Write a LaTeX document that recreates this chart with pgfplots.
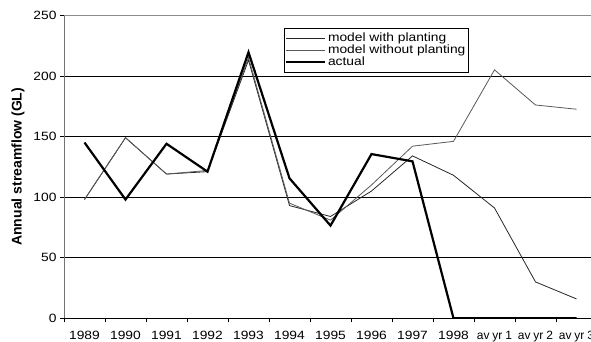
\documentclass[border=0pt]{standalone}
\usepackage{pgfplots}
\pgfplotsset{compat=1.18}
\usepackage{fontspec}
\setmainfont{Liberation Sans}
\newfontfamily\wide[FakeStretch=1.15]{Liberation Sans}
\newfontfamily\narrow{Liberation Sans}
\newcommand\avyr[1]{{\narrow av\hspace{3pt}yr\hspace{3pt}#1}}
\begin{document}
\begin{tikzpicture}[x=1pt,y=1pt]
\begin{axis}[
  at={(64pt,23.7pt)}, anchor=south west,
  scale only axis, width=533pt, height=303pt,
  xmin=-0.5, xmax=12.5, ymin=0, ymax=250,
  axis x line*=bottom, axis y line*=left,
  x axis line style={black, line width=0.8pt, -},
  y axis line style={black!55, line width=0.8pt, -},
  xtick={-0.5,0.5,...,12.5}, xticklabels={},
  extra x ticks={0,1,...,12},
  extra x tick labels={1989,1990,1991,1992,1993,1994,1995,1996,1997,1998,\avyr{1},\avyr{2},\avyr{3}},
  extra x tick style={major tick length=0pt, tick label style={yshift=-9pt}},
  ytick={0,50,...,250},
  tick align=outside, major tick length=4pt,
  tick style={black, line width=0.7pt},
  ymajorgrids, grid style={black, line width=0.7pt},
  /pgf/number format/assume math mode=true,
  tick label style={font=\wide\fontsize{12}{14}\selectfont},
  ylabel={\bfseries Annual streamflow (GL)},
  ylabel style={at={(axis description cs:-0.0863,0.5)}, anchor=center, font=\fontsize{14}{16}\selectfont},
  legend style={at={(0.4128,0.958)}, anchor=north west, draw=black, fill=white,
    font=\wide\fontsize{12}{14}\selectfont, line width=0.7pt, inner xsep=1pt, inner ysep=3pt, row sep=-1pt,
    nodes={inner sep=1.5pt}},
  legend cell align=left,
  legend image code/.code={\path (0pt,0pt) -- (12pt,0pt); \draw[#1] (12pt,0pt) -- (39pt,0pt);},
]
\draw[black!45, line width=0.8pt] (axis cs:-0.5,250) -- (axis cs:12.5,250);
\addplot[black!85, line width=0.8pt] coordinates {
(0,98) (1,149) (2,119) (3,121) (4,213) (5,93) (6,84) (7,105) (8,134) (9,118) (10,91) (11,30) (12,16)};
\addlegendentry{model with planting}
\addplot[black!65, line width=0.8pt] coordinates {
(0,98) (1,149) (2,119) (3,122) (4,215) (5,95) (6,81) (7,110) (8,142) (9,146) (10,205) (11,176) (12,172.5)};
\addlegendentry{model without planting}
\addplot[black, line width=2.2pt] coordinates {
(0,145) (1,98) (2,144) (3,121) (4,219.5) (5,115.5) (6,76.5) (7,135.5) (8,129.5) (9,0) (10,0) (11,0) (12,0)};
\addlegendentry{actual}
\end{axis}
\pgfresetboundingbox
\useasboundingbox (0,0) rectangle (591,342);
\end{tikzpicture}
\end{document}
